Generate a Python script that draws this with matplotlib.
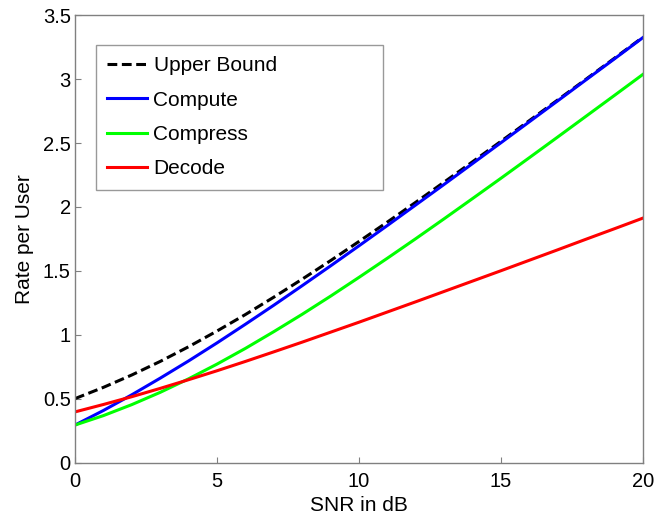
import matplotlib
matplotlib.use("Agg")
import matplotlib.pyplot as plt

plt.rcParams['font.family'] = ['Liberation Sans', 'DejaVu Sans']

snr_db = [0, 1, 2, 3, 4, 5, 6, 7, 8, 9, 10, 11, 12, 13, 14, 15, 16, 17, 18, 19, 20]
upper_bound = [0.500, 0.588, 0.685, 0.791, 0.906, 1.029, 1.158, 1.294, 1.435, 1.580, 1.730,
               1.882, 2.037, 2.195, 2.354, 2.514, 2.676, 2.838, 3.001, 3.165, 3.329]
compute = [0.293, 0.407, 0.530, 0.660, 0.795, 0.936, 1.082, 1.231, 1.384, 1.539, 1.696,
           1.855, 2.016, 2.177, 2.340, 2.503, 2.667, 2.831, 2.996, 3.160, 3.326]
compress = [0.293, 0.367, 0.453, 0.549, 0.655, 0.770, 0.893, 1.024, 1.160, 1.302, 1.449,
            1.599, 1.752, 1.908, 2.066, 2.225, 2.386, 2.548, 2.711, 2.874, 3.038]
decode = [0.396, 0.454, 0.515, 0.580, 0.648, 0.718, 0.791, 0.866, 0.942, 1.020, 1.098,
          1.178, 1.258, 1.339, 1.420, 1.501, 1.583, 1.665, 1.748, 1.830, 1.913]

xticks = [0, 5, 10, 15, 20]
yticks = [0, 0.5, 1, 1.5, 2, 2.5, 3, 3.5]
ytick_labels = ['0', '0.5', '1', '1.5', '2', '2.5', '3', '3.5']

fig = plt.figure(figsize=(6.6, 5.2), dpi=100)
ax = fig.add_axes([75/660, 1 - 462.5/520, (643-75)/660, (462.5-15.3)/520])

ax.plot(snr_db, upper_bound, color='black', linestyle=(0, (3.2, 1.5)), linewidth=2.2, label='Upper Bound')
ax.plot(snr_db, compute, color='#0000ff', linewidth=2.2, label='Compute')
ax.plot(snr_db, compress, color='#00ff00', linewidth=2.2, label='Compress')
ax.plot(snr_db, decode, color='#ff0000', linewidth=2.2, label='Decode')

ax.set_xlim(0, 20)
ax.set_ylim(0, 3.5)
ax.set_xticks(xticks)
ax.set_xticklabels([str(x) for x in xticks])
ax.set_yticks(yticks)
ax.set_yticklabels(ytick_labels)
ax.tick_params(labelsize=14.5, length=4, width=0.8, color='#808080', direction='in',
               top=False, right=False)
ax.tick_params(axis='y', pad=3)
ax.tick_params(axis='x', pad=6.5)
for s in ax.spines.values():
    s.set_color('#808080')
    s.set_linewidth(1.0)

ax.set_xlabel('SNR in dB', fontsize=15, labelpad=4)
ax.set_ylabel('Rate per User', fontsize=15, labelpad=6.5)

lx0 = (96 - 75) / 568
lw = 287 / 568
ltop = 1 - (45 - 15.3) / 447.2
lh = 144 / 447.2
leg = ax.legend(loc='upper left', bbox_to_anchor=(lx0, ltop - lh, lw, lh), mode='expand',
                fontsize=15, frameon=True, fancybox=False, handlelength=1.92,
                handletextpad=0.29, labelspacing=0.73, borderpad=0.55, borderaxespad=0)
leg.get_frame().set_edgecolor('#808080')
leg.get_frame().set_linewidth(1.0)

fig.savefig('out.png', dpi=100)
